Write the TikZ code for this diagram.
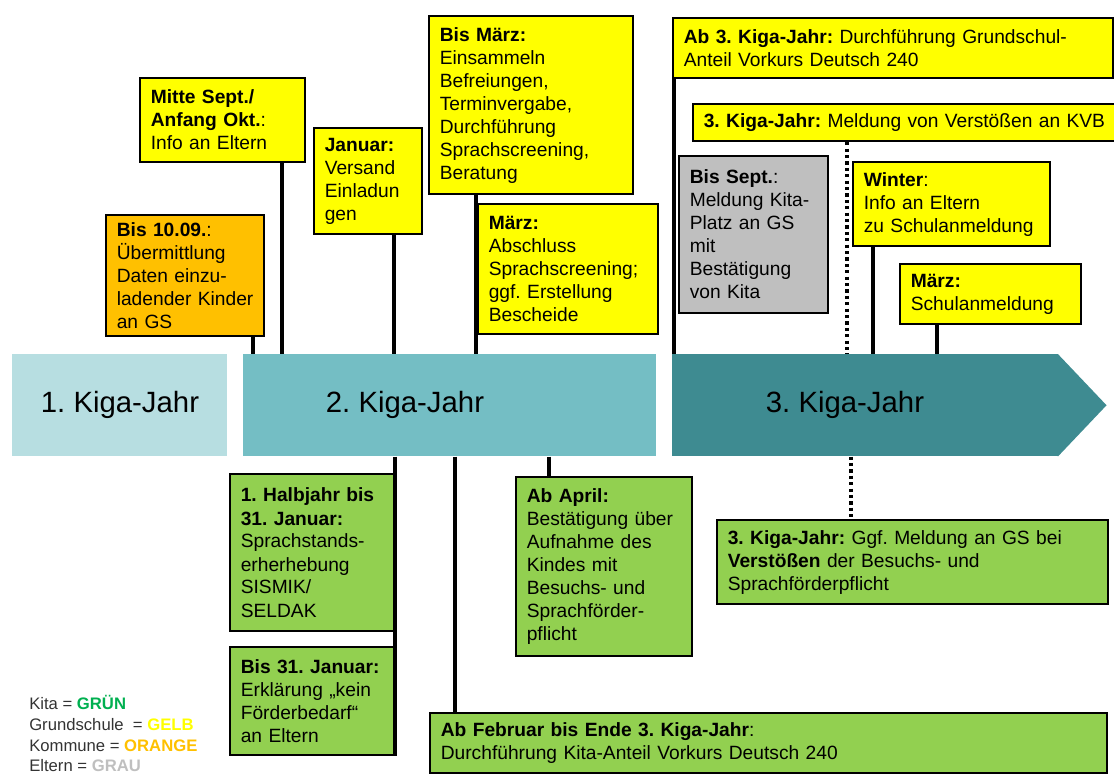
\documentclass[tikz,border=0pt]{standalone}
\usepackage{fontspec}
\setmainfont{Liberation Sans}

\definecolor{gsgelb}{HTML}{FFFF00}
\definecolor{kommune}{HTML}{FFC000}
\definecolor{kita}{HTML}{92D050}
\definecolor{eltern}{HTML}{BFBFBF}
\definecolor{kitagruen}{HTML}{00B050}
\definecolor{jahreins}{HTML}{B7DEE1}
\definecolor{jahrzwei}{HTML}{74BEC4}
\definecolor{jahrdrei}{HTML}{3E8B91}

\newcommand{\boxfont}{\fontsize{14.4}{17.25}\selectfont\hyphenpenalty=10000}

\tikzset{
  box/.style={draw, line width=1.7pt, anchor=north west, align=left,
    inner xsep=8pt, inner ysep=3pt, font=\boxfont},
  conn/.style={line width=2.6pt},
  dotconn/.style={line width=2.4pt, dash pattern=on 2.4pt off 2.4pt},
  bar/.style={anchor=north west, inner sep=0pt, minimum height=76.5pt},
  barlabel/.style={font=\fontsize{22}{26}\selectfont},
}

\begin{document}
\frenchspacing
\begin{tikzpicture}[x=0.75pt, y=-0.75pt]
\useasboundingbox (0,0) rectangle (1114,774);

\node[bar, fill=jahreins, minimum width=161.25pt] (k1) at (12,354) {};
\node[bar, fill=jahrzwei, minimum width=309.75pt] (k2) at (243,354) {};
\node[bar, fill=jahrdrei, minimum width=289.5pt] (k3) at (672,354) {};
\fill[jahrdrei] ([xshift=-0.5pt]k3.north east) -- ([xshift=36pt]k3.east) -- ([xshift=-0.5pt]k3.south east) -- cycle;
\node[barlabel] (l1) at (120,405) {1. Kiga-Jahr};
\node[barlabel] (l2) at (405,405) {2. Kiga-Jahr};
\node[barlabel] (l3) at (845,405) {3. Kiga-Jahr};

\node[box, fill=kommune, minimum width=118.5pt, minimum height=90.75pt, text width=102.5pt] (orangebox) at (105,214)
  {\textbf{Bis 10.09.}:\\Übermittlung\\Daten einzu-\\ladender~Kinder\\an GS};
\node[box, fill=gsgelb, minimum width=123.75pt, minimum height=63pt, text width=107.75pt] (mittebox) at (139,77)
  {\textbf{Mitte Sept./}\\\textbf{Anfang Okt.}:\\Info an Eltern};
\node[box, fill=gsgelb, minimum width=81pt, minimum height=79.5pt, text width=65pt] (janbox) at (313,127)
  {\textbf{Januar:}\\Versand\\Einladun\\gen};
\node[box, fill=gsgelb, minimum width=153pt, minimum height=133.5pt, text width=137pt] (bismaerz) at (428,15)
  {\textbf{Bis März:}\\Einsammeln\\Befreiungen,\\Terminvergabe,\\Durchführung\\Sprachscreening,\\Beratung};
\node[box, fill=gsgelb, minimum width=135pt, minimum height=97.5pt, text width=119pt] (maerzbox) at (477,203)
  {\textbf{März:}\\Abschluss\\Sprachscreening;\\ggf.~Erstellung\\Bescheide};
\node[box, fill=gsgelb, minimum width=330pt, minimum height=45pt, text width=314pt] (ab3box) at (672,17)
  {\textbf{Ab 3. Kiga-Jahr:} Durchführung Grundschul-\\Anteil Vorkurs Deutsch 240};
\node[box, fill=gsgelb, minimum width=321pt, minimum height=27.75pt, text width=305pt] (kvbbox) at (692,103)
  {\textbf{3.~Kiga-Jahr:}~Meldung~von~Verstößen~an~KVB};
\node[box, fill=eltern, minimum width=111.75pt, minimum height=117.75pt, text width=95.75pt] (septbox) at (678,155)
  {\textbf{Bis Sept.}:\\Meldung Kita-\\Platz~an~GS\\mit\\Bestätigung\\von Kita};
\node[box, fill=gsgelb, minimum width=147.75pt, minimum height=63pt, text width=131.75pt] (winterbox) at (852,161)
  {\textbf{Winter}:\\Info an Eltern\\zu~Schulanmeldung};
\node[box, fill=gsgelb, minimum width=135.75pt, minimum height=45pt, text width=119.75pt] (schulbox) at (899,263)
  {\textbf{März:}\\Schulanmeldung};

\node[box, fill=kita, minimum width=123pt, minimum height=117.75pt, text width=107pt] (halbbox) at (229,473)
  {\textbf{1.~Halbjahr~bis}\\\textbf{31. Januar:}\\Sprachstands-\\erherhebung\\SISMIK/\\SELDAK};
\node[box, fill=kita, minimum width=123pt, minimum height=81pt, text width=107pt] (bis31box) at (229,646)
  {\textbf{Bis 31. Januar:}\\Erklärung~„kein\\Förderbedarf“\\an Eltern};
\node[box, fill=kita, minimum width=132pt, minimum height=134.25pt, text width=116pt] (aprilbox) at (515,476)
  {\textbf{Ab April:}\\Bestätigung~über\\Aufnahme~des\\Kindes mit\\Besuchs- und\\Sprachförder-\\pflicht};
\node[box, fill=kita, minimum width=507.75pt, minimum height=45pt, text width=491.75pt] (febbox) at (429,712)
  {\textbf{Ab Februar bis Ende 3. Kiga-Jahr}:\\Durchführung Kita-Anteil Vorkurs Deutsch 240};
\node[box, fill=kita, minimum width=293.25pt, minimum height=63pt, text width=277.25pt] (ggfbox) at (716,519)
  {\textbf{3. Kiga-Jahr:} Ggf. Meldung an GS bei\\\textbf{Verstößen} der Besuchs- und\\Sprachförderpflicht};

\draw[conn] (orangebox.south -| 253,0) -- (k2.north -| 253,0);
\draw[conn] (mittebox.south -| 282,0) -- (k2.north -| 282,0);
\draw[conn] (janbox.south -| 394,0) -- (k2.north -| 394,0);
\draw[conn] (bismaerz.south -| 476,0) -- (k2.north -| 476,0);
\draw[conn] (ab3box.south -| 674,0) -- (k3.north -| 674,0);
\draw[dotconn] (kvbbox.south -| 847,0) -- (k3.north -| 847,0);
\draw[conn] (winterbox.south -| 873,0) -- (k3.north -| 873,0);
\draw[conn] (schulbox.south -| 937,0) -- (k3.north -| 937,0);

\draw[conn] (k2.south -| 395,0) -- (bis31box.south -| 395,0);
\draw[conn] (k2.south -| 455,0) -- (febbox.north -| 455,0);
\draw[conn] (k2.south -| 549,0) -- (aprilbox.north -| 549,0);
\draw[dotconn] (k3.south -| 851,0) -- (ggfbox.north -| 851,0);

\node[anchor=north west, align=left, inner sep=0pt, text=black!80,
  font=\fontsize{12.5}{15.6}\selectfont] (legende) at (29,695)
  {Kita = \textbf{\textcolor{kitagruen}{GRÜN}}\\
   Grundschule\ \ = \textbf{\textcolor{gsgelb}{GELB}}\\
   Kommune = \textbf{\textcolor{kommune}{ORANGE}}\\
   Eltern = \textbf{\textcolor{eltern}{GRAU}}};
\end{tikzpicture}
\end{document}
